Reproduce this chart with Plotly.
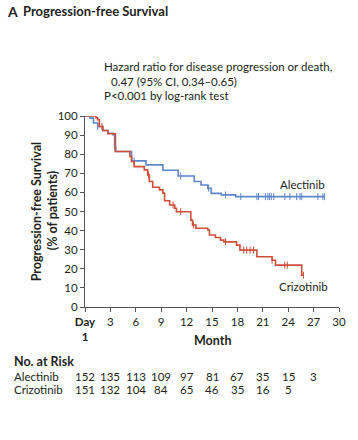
import numpy as np
import plotly.graph_objects as go

# ---------------- data ----------------
months_ticks = [0, 3, 6, 9, 12, 15, 18, 21, 24, 27, 30]
tick_labels = ["<b>Day</b><br><b>1</b>", "3", "6", "9", "12", "15", "18", "21", "24", "27", "30"]
y_ticks = [0, 10, 20, 30, 40, 50, 60, 70, 80, 90, 100]

alec_t = [0, 0.6, 1.0, 1.5, 2.1, 2.7, 3.3, 3.5, 3.6, 5.5, 7.2, 9.2, 11.0, 12.9, 13.7, 14.5, 14.9, 16.1, 17.8, 28.3]
alec_s = [100, 98.9, 96.3, 94.5, 92.4, 91.0, 90.2, 84.0, 81.4, 76.5, 74.4, 71.6, 68.6, 65.7, 63.9, 62.2, 59.5, 58.7, 57.8, 57.8]
alec_cens = [1.5, 3.5, 5.8, 11.3, 14.6, 16.6, 18.4, 20.3, 20.5, 21.3, 21.6, 21.8, 22.0, 22.3,
             23.6, 24.2, 25.0, 25.4, 25.6, 27.5, 28.1, 28.3]

criz_t = [0, 1.3, 1.5, 1.7, 2.1, 2.7, 3.6, 5.3, 5.5, 5.8, 7.0, 7.4, 7.6, 8.0, 8.8, 9.2, 9.4, 10.0,
          10.6, 10.8, 12.5, 12.7, 13.1, 14.5, 14.7, 15.4, 16.0, 16.4, 17.9, 18.3, 20.3, 22.1, 22.5, 25.6, 25.8]
criz_s = [100, 99, 98, 94.5, 92.4, 90.7, 81.4, 78.8, 76.2, 73.5, 71.8, 69.2, 65.7, 62.7, 61.3, 59.6, 55.6, 53.4,
          51.7, 49.9, 45.5, 42.9, 41.2, 40.3, 37.7, 36.4, 35.0, 34.1, 32.4, 29.8, 26.3, 24.5, 21.9, 16.6, 16.6]
criz_cens = [2.0, 7.5, 10.4, 11.3, 12.8, 16.6, 18.75, 19.1, 19.5, 19.9, 22.1, 23.6, 23.9, 25.8]

risk_alec = [152, 135, 113, 109, 97, 81, 67, 35, 15, 3]
risk_criz = [151, 132, 104, 84, 65, 46, 35, 16, 5]

BLUE = "#5d87ca"
RED = "#cf4f3a"
FONT = "Lato"
INK = "#231f20"


def step_value(t, ts, ss):
    idx = np.searchsorted(np.array(ts), t, side="right") - 1
    return ss[max(idx, 0)]


fig = go.Figure()
for ts, ss, cens, col in [(alec_t, alec_s, alec_cens, BLUE), (criz_t, criz_s, criz_cens, RED)]:
    fig.add_trace(go.Scatter(x=ts, y=ss, mode="lines", line=dict(color=col, width=1.6, shape="hv"),
                             hoverinfo="skip", showlegend=False, cliponaxis=False))
    fig.add_trace(go.Scatter(x=cens, y=[step_value(c, ts, ss) for c in cens], mode="markers",
                             marker=dict(symbol="line-ns", size=5, line=dict(color=col, width=1)),
                             hoverinfo="skip", showlegend=False, cliponaxis=False))

# plot area in pixels
L, R, T, B = 85, 341, 116.3, 306.7
W, H = 358, 440


def px(x):
    return (x - L) / (R - L)


def py(y):
    return (B - y) / (B - T)


ann = []
ann.append(dict(x=px(4), y=py(12), text="<b>A</b>", font=dict(size=14)))
ann.append(dict(x=px(20), y=py(12), text="<b>Progression-free Survival</b>", font=dict(size=13)))
ann.append(dict(x=px(102), y=py(67), text="Hazard ratio for disease progression or death,", font=dict(size=11.5)))
ann.append(dict(x=px(109), y=py(82), text="0.47 (95% CI, 0.34\u20130.65)", font=dict(size=11.5)))
ann.append(dict(x=px(102), y=py(96), text="P<0.001 by log-rank test", font=dict(size=11.5)))
ann.append(dict(x=px(280), y=py(185), text="Alectinib", font=dict(size=11.5)))
ann.append(dict(x=px(279), y=py(286), text="Crizotinib", font=dict(size=11.5)))
ann.append(dict(x=px(11), y=py(361), text="<b>No. at Risk</b>", font=dict(size=12.5)))
ann.append(dict(x=px(11), y=py(376), text="Alectinib", font=dict(size=11.5)))
ann.append(dict(x=px(11), y=py(389), text="Crizotinib", font=dict(size=11.5)))
for a in ann:
    a.update(xref="paper", yref="paper", xanchor="left", yanchor="middle", showarrow=False)
    a["font"].update(family=FONT, color=INK)

center_ann = [
    dict(x=px(213), y=py(340), text="<b>Month</b>", font=dict(size=12.5)),
    dict(x=px(37), y=py(211), text="<b>Progression-free Survival</b>", font=dict(size=12.5), textangle=-90),
    dict(x=px(53), y=py(211), text="<b>(% of patients)</b>", font=dict(size=12.5), textangle=-90),
]
for a in center_ann:
    a.update(xref="paper", yref="paper", xanchor="center", yanchor="middle", showarrow=False)
    a["font"].update(family=FONT, color=INK)
ann += center_ann

for i, v in enumerate(risk_alec):
    ann.append(dict(x=months_ticks[i], y=py(376), xref="x", yref="paper", text=str(v), showarrow=False,
                    xanchor="center", yanchor="middle", font=dict(family=FONT, size=11.5, color=INK)))
for i, v in enumerate(risk_criz):
    ann.append(dict(x=months_ticks[i], y=py(389), xref="x", yref="paper", text=str(v), showarrow=False,
                    xanchor="center", yanchor="middle", font=dict(family=FONT, size=11.5, color=INK)))

fig.update_layout(
    width=W, height=H,
    margin=dict(l=L, r=W - R, t=T, b=H - B, pad=0),
    plot_bgcolor="white", paper_bgcolor="white",
    font=dict(family=FONT, size=11.5, color=INK),
    annotations=ann,
    xaxis=dict(range=[0, 30], tickvals=months_ticks, ticktext=tick_labels, showgrid=False, zeroline=False,
               showline=True, linecolor="#555", linewidth=1, ticks="outside", ticklen=4, tickcolor="#555",
               tickfont=dict(family=FONT, size=11.5)),
    yaxis=dict(range=[0, 100], tickvals=y_ticks, showgrid=False, zeroline=False,
               showline=True, linecolor="#555", linewidth=1, ticks="outside", ticklen=4, tickcolor="#555",
               tickfont=dict(family=FONT, size=11.5)),
)

fig.write_html("out.html", post_script="document.body.style.margin='0';",
               config={"displayModeBar": False})
